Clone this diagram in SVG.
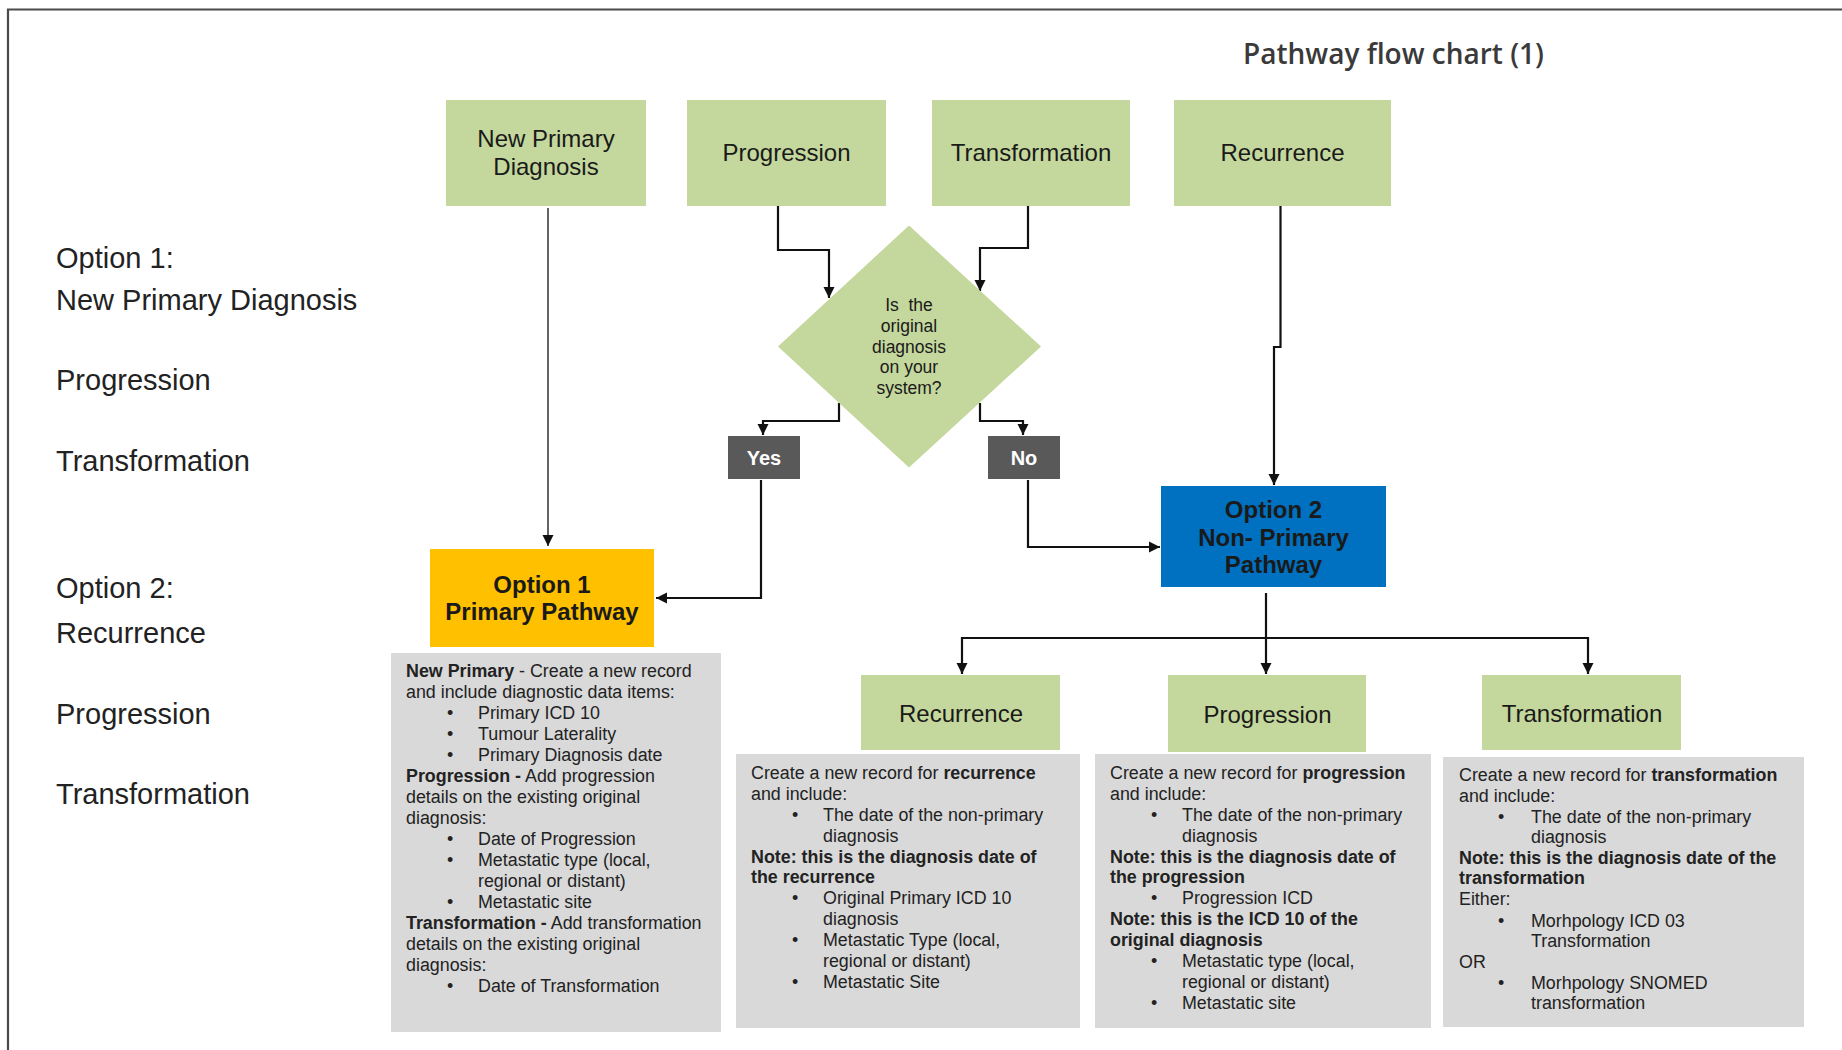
<svg xmlns="http://www.w3.org/2000/svg" width="1842" height="1050" viewBox="0 0 1842 1050">
<style>
.g{fill:#C4D79C}
.t{font-family:"Liberation Sans",Arial,sans-serif;fill:#1a1a1a}
.box{font-size:24px;text-anchor:middle}
.lbl{font-size:29px;fill:#222}
.d{font-size:17.85px;fill:#222}
.b{font-weight:bold}
.c{fill:none;stroke:#111;stroke-width:2.2}
</style>
<defs>
<marker id="ah" markerUnits="userSpaceOnUse" markerWidth="12" markerHeight="12" refX="11" refY="6" orient="auto">
<path d="M0,0.5 L11,6 L0,11.5 z" fill="#111"/>
</marker>
</defs>
<rect width="1842" height="1050" fill="#fff"/>
<g id="frame">
<path d="M8,1050 V9.5 H1842" fill="none" stroke="#4a4a4a" stroke-width="2.2"/>
</g>
<g id="title">
<text x="1243" y="64" style="font-family:'Open Sans',sans-serif;font-size:28px;font-weight:600;fill:#3a3a3a">Pathway flow chart (1)</text>
</g>
<g id="legend" class="t lbl">
<text x="56" y="268">Option 1:</text>
<text x="56" y="310">New Primary Diagnosis</text>
<text x="56" y="390">Progression</text>
<text x="56" y="471">Transformation</text>
<text x="56" y="598">Option 2:</text>
<text x="56" y="643">Recurrence</text>
<text x="56" y="724">Progression</text>
<text x="56" y="804">Transformation</text>
</g>
<g id="connectors">
<path d="M548,208 V546" fill="none" stroke="#222" stroke-width="1.4" marker-end="url(#ah)"/>
<path class="c" d="M778,206 V250 H829 V298" marker-end="url(#ah)"/>
<path class="c" d="M1028,206 V248 H980 V291" marker-end="url(#ah)"/>
<path class="c" d="M839,403 V421 H763 V435" marker-end="url(#ah)"/>
<path class="c" d="M980,403 V421 H1023 V435" marker-end="url(#ah)"/>
<path class="c" d="M761,480 V598 H656" marker-end="url(#ah)"/>
<path class="c" d="M1028,480 V547 H1160" marker-end="url(#ah)"/>
<path class="c" d="M1280.5,206 V347 H1274 V485" marker-end="url(#ah)"/>
<path class="c" d="M1266,593 V674" marker-end="url(#ah)"/>
<path class="c" d="M1266,638 H962 V674" marker-end="url(#ah)"/>
<path class="c" d="M1266,638 H1588 V674" marker-end="url(#ah)"/>
</g>
<g id="n-newprimary">
<rect class="g" x="446" y="100" width="200" height="106"/>
<text class="t box" x="546" y="147">New Primary</text>
<text class="t box" x="546" y="175">Diagnosis</text>
</g>
<g id="n-progression">
<rect class="g" x="687" y="100" width="199" height="106"/>
<text class="t box" x="786.5" y="161">Progression</text>
</g>
<g id="n-transformation">
<rect class="g" x="932" y="100" width="198" height="106"/>
<text class="t box" x="1031" y="161">Transformation</text>
</g>
<g id="n-recurrence">
<rect class="g" x="1174" y="100" width="217" height="106"/>
<text class="t box" x="1282.5" y="161">Recurrence</text>
</g>
<g id="n-decision">
<polygon class="g" points="909,225.5 1041,346.5 909,467.5 778,346.5"/>
<g class="t" style="font-size:17.5px;text-anchor:middle">
<text x="909" y="311" style="white-space:pre">Is  the</text>
<text x="909" y="332">original</text>
<text x="909" y="352.5">diagnosis</text>
<text x="909" y="373">on your</text>
<text x="909" y="393.5">system?</text>
</g>
</g>
<g id="n-yes">
<rect x="728" y="436" width="72" height="43" fill="#595959"/>
<text class="t b" x="764" y="465" style="font-size:20px;fill:#fff;text-anchor:middle">Yes</text>
</g>
<g id="n-no">
<rect x="988" y="436" width="72" height="43" fill="#595959"/>
<text class="t b" x="1024" y="465" style="font-size:20px;fill:#fff;text-anchor:middle">No</text>
</g>
<g id="n-option1">
<rect x="430" y="549" width="224" height="98" fill="#FFC000"/>
<text class="t box b" x="542" y="593">Option 1</text>
<text class="t box b" x="542" y="620">Primary Pathway</text>
</g>
<g id="n-option2">
<rect x="1161" y="486" width="225" height="101" fill="#0070C0"/>
<text class="t box b" x="1273.5" y="518">Option 2</text>
<text class="t box b" x="1273.5" y="545.5">Non- Primary</text>
<text class="t box b" x="1273.5" y="573">Pathway</text>
</g>
<g id="n-option1-desc">
<rect x="391" y="653" width="330" height="379" fill="#D9D9D9"/>
<g class="t d">
<text x="406" y="677"><tspan class="b">New Primary</tspan> - Create a new record</text>
<text x="406" y="698">and include diagnostic data items:</text>
<text x="447" y="719">•</text><text x="478" y="719">Primary ICD 10</text>
<text x="447" y="740">•</text><text x="478" y="740">Tumour Laterality</text>
<text x="447" y="761">•</text><text x="478" y="761">Primary Diagnosis date</text>
<text x="406" y="782"><tspan class="b">Progression -</tspan> Add progression</text>
<text x="406" y="803">details on the existing original</text>
<text x="406" y="824">diagnosis:</text>
<text x="447" y="845">•</text><text x="478" y="845">Date of Progression</text>
<text x="447" y="866">•</text><text x="478" y="866">Metastatic type (local,</text>
<text x="478" y="887">regional or distant)</text>
<text x="447" y="908">•</text><text x="478" y="908">Metastatic site</text>
<text x="406" y="929"><tspan class="b">Transformation -</tspan> Add transformation</text>
<text x="406" y="950">details on the existing original</text>
<text x="406" y="971">diagnosis:</text>
<text x="447" y="992">•</text><text x="478" y="992">Date of Transformation</text>
</g>
</g>
<g id="n-sub-recurrence">
<rect class="g" x="861" y="675" width="199" height="75"/>
<text class="t box" x="961" y="721.5">Recurrence</text>
</g>
<g id="n-sub-progression">
<rect class="g" x="1168" y="675" width="198" height="77"/>
<text class="t box" x="1267.5" y="722.5">Progression</text>
</g>
<g id="n-sub-transformation">
<rect class="g" x="1482" y="675" width="199" height="75"/>
<text class="t box" x="1582" y="721.5">Transformation</text>
</g>
<g id="n-recurrence-desc">
<rect x="736" y="754" width="344" height="274" fill="#D9D9D9"/>
<g class="t d">
<text x="751" y="779">Create a new record for <tspan class="b">recurrence</tspan></text>
<text x="751" y="800">and include:</text>
<text x="792" y="821">•</text><text x="823" y="821">The date of the non-primary</text>
<text x="823" y="842">diagnosis</text>
<text x="751" y="863" class="b">Note: this is the diagnosis date of</text>
<text x="751" y="883" class="b">the recurrence</text>
<text x="792" y="904">•</text><text x="823" y="904">Original Primary ICD 10</text>
<text x="823" y="925">diagnosis</text>
<text x="792" y="946">•</text><text x="823" y="946">Metastatic Type (local,</text>
<text x="823" y="967">regional or distant)</text>
<text x="792" y="988">•</text><text x="823" y="988">Metastatic Site</text>
</g>
</g>
<g id="n-progression-desc">
<rect x="1095" y="754" width="336" height="274" fill="#D9D9D9"/>
<g class="t d">
<text x="1110" y="779">Create a new record for <tspan class="b">progression</tspan></text>
<text x="1110" y="800">and include:</text>
<text x="1151" y="821">•</text><text x="1182" y="821">The date of the non-primary</text>
<text x="1182" y="842">diagnosis</text>
<text x="1110" y="863" class="b">Note: this is the diagnosis date of</text>
<text x="1110" y="883" class="b">the progression</text>
<text x="1151" y="904">•</text><text x="1182" y="904">Progression ICD</text>
<text x="1110" y="925" class="b">Note: this is the ICD 10 of the</text>
<text x="1110" y="946" class="b">original diagnosis</text>
<text x="1151" y="967">•</text><text x="1182" y="967">Metastatic type (local,</text>
<text x="1182" y="988">regional or distant)</text>
<text x="1151" y="1009">•</text><text x="1182" y="1009">Metastatic site</text>
</g>
</g>
<g id="n-transformation-desc">
<rect x="1443" y="757" width="361" height="270" fill="#D9D9D9"/>
<g class="t d">
<text x="1459" y="781">Create a new record for <tspan class="b">transformation</tspan></text>
<text x="1459" y="802">and include:</text>
<text x="1498" y="823">•</text><text x="1531" y="823">The date of the non-primary</text>
<text x="1531" y="843">diagnosis</text>
<text x="1459" y="864" class="b">Note: this is the diagnosis date of the</text>
<text x="1459" y="884" class="b">transformation</text>
<text x="1459" y="905">Either:</text>
<text x="1498" y="927">•</text><text x="1531" y="927">Morhpology ICD 03</text>
<text x="1531" y="947">Transformation</text>
<text x="1459" y="968">OR</text>
<text x="1498" y="989">•</text><text x="1531" y="989">Morhpology SNOMED</text>
<text x="1531" y="1009">transformation</text>
</g>
</g>
</svg>
